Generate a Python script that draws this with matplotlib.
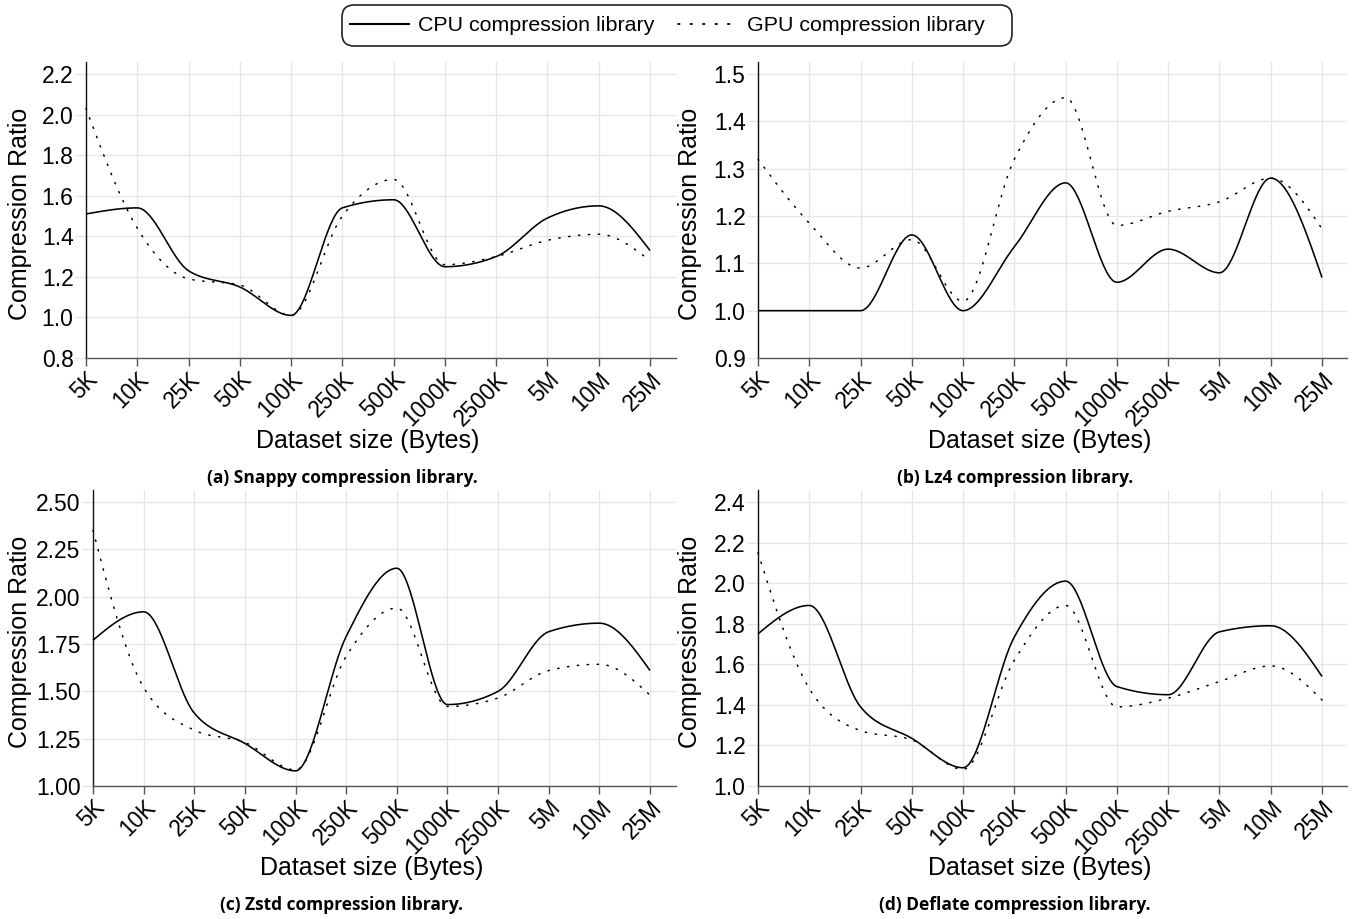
import numpy as np
import matplotlib
matplotlib.use("Agg")
import matplotlib.pyplot as plt
from matplotlib.lines import Line2D
from matplotlib.patches import FancyBboxPatch

W, H = 1356, 919

sizes = ['5K', '10K', '25K', '50K', '100K', '250K', '500K', '1000K',
         '2500K', '5M', '10M', '25M']

snappy_cpu = [1.51, 1.54, 1.23, 1.15, 1.01, 1.54, 1.58, 1.25, 1.30, 1.49, 1.55, 1.33]
snappy_gpu = [2.03, 1.44, 1.19, 1.16, 1.01, 1.50, 1.68, 1.26, 1.30, 1.38, 1.41, 1.28]

lz4_cpu = [1.00, 1.00, 1.00, 1.16, 1.00, 1.135, 1.27, 1.06, 1.13, 1.08, 1.28, 1.07]
lz4_gpu = [1.32, 1.185, 1.09, 1.15, 1.02, 1.32, 1.45, 1.18, 1.21, 1.23, 1.28, 1.173]

zstd_cpu = [1.77, 1.92, 1.385, 1.225, 1.08, 1.79, 2.15, 1.43, 1.50, 1.815, 1.86, 1.61]
zstd_gpu = [2.35, 1.52, 1.295, 1.23, 1.085, 1.685, 1.94, 1.42, 1.465, 1.61, 1.643, 1.48]

deflate_cpu = [1.75, 1.89, 1.39, 1.235, 1.09, 1.735, 2.01, 1.49, 1.45, 1.76, 1.79, 1.54]
deflate_gpu = [2.15, 1.48, 1.273, 1.227, 1.082, 1.62, 1.89, 1.39, 1.433, 1.515, 1.592, 1.424]

yticks_a = [0.8, 1.0, 1.2, 1.4, 1.6, 1.8, 2.0, 2.2]
yticks_b = [0.9, 1.0, 1.1, 1.2, 1.3, 1.4, 1.5]
yticks_c = [1.00, 1.25, 1.50, 1.75, 2.00, 2.25, 2.50]
yticks_d = [1.0, 1.2, 1.4, 1.6, 1.8, 2.0, 2.2, 2.4]

captions = ['(a) Snappy compression library.', '(b) Lz4 compression library.',
            '(c) Zstd compression library.', '(d) Deflate compression library.']
series_names = ['CPU compression library', 'GPU compression library']


def monotone_x(y, n=40):
    """d3 curveMonotoneX rendering of points at x = 0..N-1."""
    y = np.asarray(y, float)
    N = len(y)
    d = np.diff(y)
    t = np.zeros(N)
    for i in range(1, N - 1):
        s0, s1 = d[i - 1], d[i]
        p = (s0 + s1) / 2.0
        t[i] = (np.sign(s0) + np.sign(s1)) * min(abs(s0), abs(s1), 0.5 * abs(p))
    t[0] = (3 * d[0] - t[1]) / 2.0
    t[-1] = (3 * d[-1] - t[-2]) / 2.0
    xs, ys = [], []
    u = np.linspace(0, 1, n)
    for i in range(N - 1):
        x0, x1 = i, i + 1
        dx = 1 / 3.0
        P0 = (x0, y[i]); P1 = (x0 + dx, y[i] + dx * t[i])
        P2 = (x1 - dx, y[i + 1] - dx * t[i + 1]); P3 = (x1, y[i + 1])
        b0 = (1 - u) ** 3; b1 = 3 * (1 - u) ** 2 * u; b2 = 3 * (1 - u) * u ** 2; b3 = u ** 3
        bx = b0 * P0[0] + b1 * P1[0] + b2 * P2[0] + b3 * P3[0]
        by = b0 * P0[1] + b1 * P1[1] + b2 * P2[1] + b3 * P3[1]
        if i > 0:
            bx, by = bx[1:], by[1:]
        xs.append(bx); ys.append(by)
    return np.concatenate(xs), np.concatenate(ys)


plt.rcParams['font.family'] = ['Liberation Sans', 'DejaVu Sans']

fig = plt.figure(figsize=(W / 100, H / 100), dpi=100)


def fx(x):
    return x / W


def fy(y):
    return 1 - y / H


panels = [
    dict(l=86, r=676, t=62, b=358, xlast=650, ticks=yticks_a, y0=358, y1=74, fmt='{:.1f}',
         cpu=snappy_cpu, gpu=snappy_gpu),
    dict(l=758, r=1347, t=62, b=358, xlast=1322, ticks=yticks_b, y0=358, y1=74, fmt='{:.1f}',
         cpu=lz4_cpu, gpu=lz4_gpu),
    dict(l=93, r=676, t=490, b=786, xlast=650, ticks=yticks_c, y0=786, y1=502, fmt='{:.2f}',
         cpu=zstd_cpu, gpu=zstd_gpu),
    dict(l=758, r=1347, t=490, b=786, xlast=1322, ticks=yticks_d, y0=786, y1=502, fmt='{:.1f}',
         cpu=deflate_cpu, gpu=deflate_gpu),
]

DOTS = (0, (0.9, 5.6))

for k, p in enumerate(panels):
    ax = fig.add_axes([fx(p['l']), fy(p['b']), (p['r'] - p['l']) / W, (p['b'] - p['t']) / H])
    step = (p['xlast'] - p['l']) / 11.0
    xmax = (p['r'] - p['l']) / step
    tk = p['ticks']
    per = (p['y0'] - p['y1']) / (tk[-1] - tk[0])
    ylo = tk[0]
    yhi = tk[-1] + (p['y1'] - p['t']) / per
    ax.set_xlim(0, xmax)
    ax.set_ylim(ylo, yhi)

    xs, ys = monotone_x(p['cpu'])
    ax.plot(xs, ys, color='black', lw=1.15, solid_capstyle='butt', zorder=3,
            clip_on=False)
    xs, ys = monotone_x(p['gpu'])
    ax.plot(xs, ys, color='black', lw=1.1, linestyle=DOTS,
            dash_capstyle='round', zorder=3, clip_on=False)

    ax.set_xticks(range(len(sizes)))
    ax.set_xticklabels(sizes, rotation=45, ha='right', va='top',
                       rotation_mode='anchor', fontsize=16.3)
    ax.set_yticks(tk)
    ax.set_yticklabels([p['fmt'].format(v) for v in tk], fontsize=16.5)
    ax.grid(True, color='#e6e6e6', lw=1.0, zorder=0)
    ax.set_axisbelow(True)
    for s in ['top', 'right']:
        ax.spines[s].set_visible(False)
    ax.spines['left'].set_color('#111111')
    ax.spines['left'].set_linewidth(1.0)
    ax.spines['bottom'].set_color('#555555')
    ax.spines['bottom'].set_linewidth(1.0)
    ax.tick_params(axis='x', length=6, width=1.0, color='#555555', pad=1)
    ax.tick_params(axis='y', length=8, width=1.0, color='#e6e6e6', pad=1)

    cx = p['l'] + 5.5 * step
    ly = 448 if k < 2 else 875
    fig.text(fx(cx), fy(ly), 'Dataset size (Bytes)', ha='center', va='baseline', fontsize=18)
    lx = 20 if k % 2 == 0 else 690
    cy = (p['t'] + p['b']) / 2 + 4
    fig.text(fx(lx), fy(cy), 'Compression Ratio', ha='center', va='center',
             rotation=90, fontsize=18)
    capx = 342 if k % 2 == 0 else 1015
    capy = 478 if k < 2 else 905
    fig.text(fx(capx), fy(capy), captions[k], ha='center', va='center',
             fontsize=12.5, fontweight='bold', family=['Open Sans', 'DejaVu Sans'])

# legend frame (rounded box) and entries
box = FancyBboxPatch((fx(342), fy(46)), fx(1012) - fx(342), fy(5) - fy(46),
                     boxstyle='round,pad=0,rounding_size=0.009',
                     transform=fig.transFigure, facecolor='white',
                     edgecolor='#222222', lw=1.2, mutation_aspect=W / H)
fig.patches.append(box)

handles = [Line2D([], [], color='black', lw=1.5),
           Line2D([], [], color='black', lw=1.3, linestyle=(0, (0.9, 6.0)), dash_capstyle='round')]
leg = fig.legend(handles, series_names,
                 loc='center left', bbox_to_anchor=(fx(350), fy(25.5)), ncol=2,
                 fontsize=15.4, frameon=False, handlelength=2.75,
                 handletextpad=0.45, columnspacing=1.1, borderpad=0.0,
                 borderaxespad=0)

fig.savefig('out.png', dpi=100)
